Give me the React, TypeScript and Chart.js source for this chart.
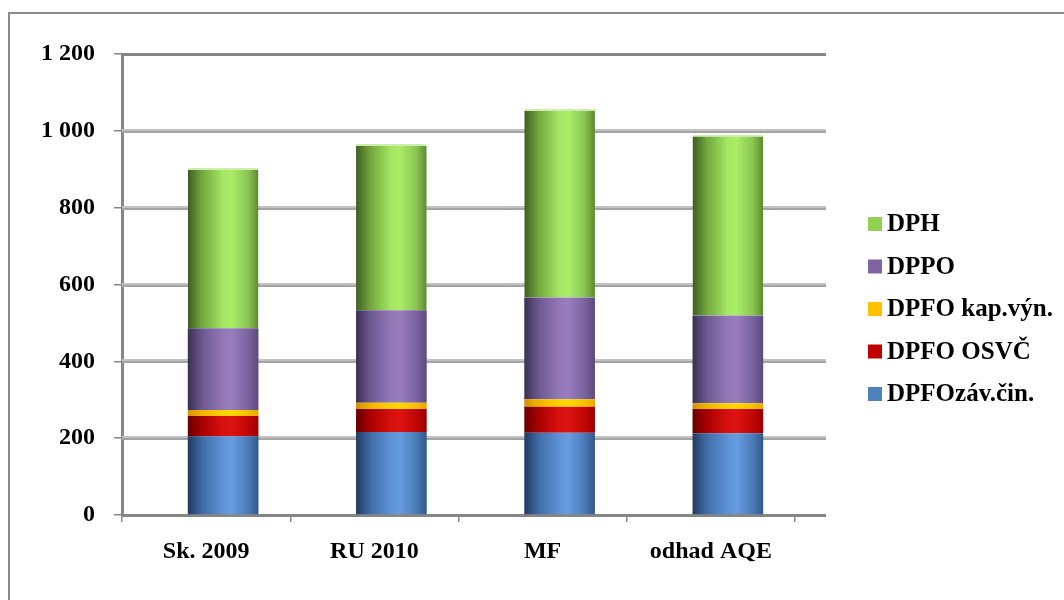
import { useEffect, useRef } from "react";
import { Chart, registerables } from "chart.js";

Chart.register(...registerables);

// Revenue components (mil. EUR) per estimate
const categories = ["Sk. 2009", "RU 2010", "MF", "odhad AQE"];
const seriesNames = ["DPFOzáv.čin.", "DPFO OSVČ", "DPFO kap.výn.", "DPPO", "DPH"];
const dpfoZavCin = [205, 216, 214, 213];
const dpfoOsvc = [53, 60, 68, 63];
const dpfoKapVyn = [15, 16, 19, 15];
const dppo = [213, 241, 265, 228];
const dph = [417, 433, 491, 471];
const yTickValues = [0, 200, 400, 600, 800, 1000, 1200];

const seriesValues = [dpfoZavCin, dpfoOsvc, dpfoKapVyn, dppo, dph];
const legendColors = ["#4f81bd", "#c00000", "#ffc000", "#8064a2", "#92d050"];
const cylinderStops: [number, string][][] = [
  [[0, "#223a5e"], [0.2, "#3f6ca6"], [0.5, "#5e93d6"], [0.62, "#689ce0"], [0.85, "#4b7bb8"], [1, "#335889"]],
  [[0, "#680000"], [0.2, "#a80000"], [0.5, "#d81010"], [0.62, "#dc1414"], [0.85, "#c00606"], [1, "#9a0000"]],
  [[0, "#d49000"], [0.2, "#f0b400"], [0.5, "#ffd200"], [0.62, "#ffd800"], [0.85, "#f8c000"], [1, "#e8a800"]],
  [[0, "#3a2f52"], [0.2, "#6c5890"], [0.5, "#9479b8"], [0.62, "#987dbd"], [0.85, "#7b63a0"], [1, "#5c4a7c"]],
  [[0, "#3e5e20"], [0.2, "#72a63e"], [0.5, "#a6e863"], [0.62, "#aaec66"], [0.85, "#8cc654"], [1, "#5c8a30"]],
];

const FONT = "'Liberation Serif', 'Times New Roman', serif";
const BAR_PCT = 0.42;
const DEPTH = 31; // back-wall offset of the floor/grid
const BAR_SHIFT = 17; // bars sit midway in depth

function cylinderFill(stops: [number, string][], flat: string) {
  return (c: any) => {
    const chart = c.chart;
    const xs = chart.scales && chart.scales.x;
    if (c.type !== "data" || !xs || !chart.chartArea) return flat;
    const cx = xs.getPixelForValue(c.dataIndex);
    const w = (xs.width / categories.length) * BAR_PCT;
    const g = chart.ctx.createLinearGradient(cx - w / 2, 0, cx + w / 2, 0);
    stops.forEach(([o, col]) => g.addColorStop(o, col));
    return g;
  };
}

const framePlugin = {
  id: "frame",
  beforeDraw(chart: any) {
    const ctx = chart.ctx;
    ctx.save();
    ctx.fillStyle = "#ffffff";
    ctx.fillRect(0, 0, chart.width, chart.height);
    ctx.strokeStyle = "#8a8a8a";
    ctx.lineWidth = 2;
    ctx.beginPath();
    ctx.moveTo(9, chart.height + 5);
    ctx.lineTo(9, 13);
    ctx.lineTo(chart.width + 5, 13);
    ctx.stroke();
    ctx.restore();
  },
  beforeDatasetsDraw(chart: any) {
    const ctx = chart.ctx;
    const ys = chart.scales.y;
    const { left, right } = chart.chartArea;
    const w = right + DEPTH - left;
    ctx.save();
    yTickValues.forEach((v) => {
      const y = Math.round(ys.getPixelForValue(v));
      if (v === 0 || v === ys.max) {
        ctx.fillStyle = "#868686";
        ctx.fillRect(left, y - 1, w, 3);
      } else {
        ctx.fillStyle = "#c2c2c2";
        ctx.fillRect(left, y - 2, w, 2);
        ctx.fillStyle = "#a4a4a4";
        ctx.fillRect(left, y, w, 2);
      }
    });
    ctx.restore();
    ctx.save();
    ctx.translate(BAR_SHIFT, 0);
  },
  afterDatasetsDraw(chart: any) {
    chart.ctx.restore();
  },
  afterDraw(chart: any) {
    const ctx = chart.ctx;
    ctx.save();
    ctx.font = `bold 25px ${FONT}`;
    ctx.textBaseline = "middle";
    ctx.textAlign = "left";
    const order = [4, 3, 2, 1, 0];
    order.forEach((s, i) => {
      const cy = 224 + i * 42.5;
      ctx.fillStyle = legendColors[s];
      ctx.fillRect(868, cy - 7, 14, 14);
      ctx.fillStyle = "#000000";
      ctx.fillText(seriesNames[s], 887, cy + 1);
    });
    ctx.restore();
  },
};

export default function App() {
  const canvasRef = useRef<HTMLCanvasElement | null>(null);

  useEffect(() => {
    const canvas = canvasRef.current;
    if (!canvas) return;
    const chart = new Chart(canvas, {
      type: "bar",
      data: {
        labels: categories,
        datasets: seriesNames.map((name, i) => ({
          label: name,
          data: seriesValues[i],
          backgroundColor: cylinderFill(cylinderStops[i], legendColors[i]),
          borderWidth: i === 4 ? { top: 2, left: 0, right: 0, bottom: 0 } : 0,
          borderColor: "#cdeeae",
          borderSkipped: false,
          categoryPercentage: 1,
          barPercentage: BAR_PCT,
        })),
      },
      options: {
        responsive: false,
        animation: false,
        layout: { padding: { top: 54, right: 269, left: 0, bottom: 0 } },
        plugins: {
          legend: { display: false },
          tooltip: { enabled: false },
          title: { display: false },
        },
        scales: {
          x: {
            stacked: true,
            offset: true,
            grid: {
              display: true,
              drawOnChartArea: false,
              drawTicks: true,
              tickLength: 7,
              offset: true,
              color: "#868686",
              lineWidth: 1.5,
            },
            border: { display: false },
            ticks: {
              color: "#000000",
              font: { family: FONT, size: 24, weight: "bold" },
              padding: 15,
              maxRotation: 0,
              autoSkip: false,
            },
            afterFit: (s: any) => {
              s.height = 85;
            },
          },
          y: {
            stacked: true,
            min: 0,
            max: 1200,
            afterBuildTicks: (s: any) => {
              s.ticks = yTickValues.map((v) => ({ value: v }));
            },
            grid: {
              display: true,
              drawOnChartArea: false,
              drawTicks: true,
              tickLength: 8,
              color: "#868686",
              lineWidth: 1.5,
            },
            border: { display: true, color: "#868686", width: 3 },
            ticks: {
              color: "#000000",
              font: { family: FONT, size: 24, weight: "bold" },
              padding: 19,
              callback: (v: any) => String(v).replace(/\B(?=(\d{3})+(?!\d))/g, " "),
            },
            afterFit: (s: any) => {
              s.width = 122;
            },
          },
        },
      },
      plugins: [framePlugin],
    });
    return () => chart.destroy();
  }, []);

  return (
    <div style={{ position: "absolute", left: 0, top: 0, width: 1064, height: 600 }}>
      <canvas ref={canvasRef} width={1064} height={600} style={{ display: "block" }} />
    </div>
  );
}
